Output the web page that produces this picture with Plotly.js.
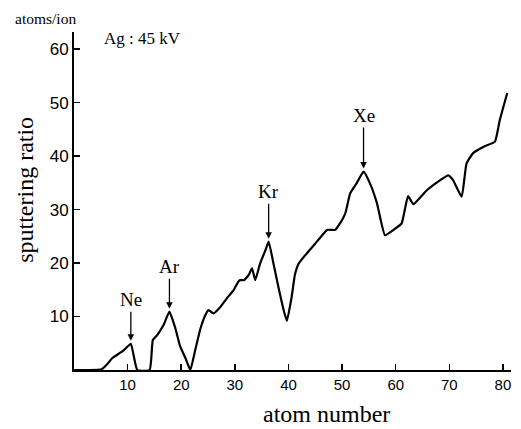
<!DOCTYPE html>
<html>
<head>
<meta charset="utf-8">
<script src="https://cdn.plot.ly/plotly-3.0.1.min.js"></script>
<style>
  html, body { margin: 0; padding: 0; background: #fff; }
  #chart { width: 521px; height: 429px; }
</style>
</head>
<body>
<div id="chart"></div>
<script>
// Sputtering ratio of Ag at 45 kV versus atomic number of the incident ion
const atomNumber = [0, 3, 5, 5.5, 6.3, 7.1, 8.0, 9.3, 10.6, 11.8, 14.1, 14.7, 15.5, 16.7, 17.8,
  18.9, 19.8, 20.8, 21.7, 22.6, 23.6, 24.5, 25.1, 26.0, 27.3, 28.5, 29.8, 30.7, 31.0, 31.7,
  32.6, 33.2, 33.8, 34.7, 35.7, 36.3, 37.2, 38.1, 39.1, 39.7, 40.6, 41.2, 41.9, 43.4, 45.3,
  47.2, 48.7, 49.6, 50.6, 51.5, 52.7, 54.0, 55.2, 56.5, 58.0, 59.6, 61.1, 62.3, 63.3, 65.8,
  68.3, 69.8, 70.7, 72.3, 73.2, 74.4, 76.3, 78.5, 79.4, 80.8];
const sputterRatio = [0, 0, 0.1, 0.4, 1.2, 2.2, 2.8, 3.7, 4.9, 0, 0, 5.6, 6.5, 8.4, 10.9,
  7.8, 4.4, 2.2, 0, 3.7, 7.8, 10.3, 11.2, 10.6, 11.8, 13.4, 15.0, 16.6, 16.8, 16.8,
  17.8, 19.0, 16.8, 19.9, 22.4, 24.0, 19.9, 15.6, 11.2, 9.2, 13.7, 17.8, 19.9, 21.8, 24.0,
  26.2, 26.2, 27.4, 29.3, 33.0, 34.9, 37.1, 34.9, 31.2, 25.2, 26.2, 27.4, 32.5, 31.0, 33.6,
  35.5, 36.4, 35.5, 32.4, 38.6, 40.5, 41.7, 42.7, 46.7, 51.8];

// Noble-gas peaks marked with arrows
const gasNames = ['Ne', 'Ar', 'Kr', 'Xe'];
const gasZ = [10.6, 17.8, 36.3, 54.0];
const gasRatio = [4.9, 10.9, 24.0, 37.1];
const gasArrowLen = [-44, -45, -50, -56];

const xTicks = [10, 20, 30, 40, 50, 60, 70, 80];
const yTicks = [10, 20, 30, 40, 50, 60];

const serif = '"Liberation Serif", "Times New Roman", serif';
const sans = '"Liberation Sans", Arial, sans-serif';

const trace = {
  x: atomNumber,
  y: sputterRatio,
  mode: 'lines',
  line: { color: '#000', width: 2.2, shape: 'spline', smoothing: 0.4 },
  hoverinfo: 'skip'
};

const gasNotes = gasNames.map((name, i) => ({
  x: gasZ[i], y: gasRatio[i], xref: 'x', yref: 'y',
  text: name, showarrow: true, arrowhead: 2, arrowsize: 1, arrowwidth: 1.3,
  arrowcolor: '#000', ax: 0, ay: gasArrowLen[i], standoff: 3,
  font: { family: serif, size: 19, color: '#000' }
}));

const layout = {
  width: 521, height: 429,
  margin: { l: 74, r: 10, t: 32, b: 59 },
  paper_bgcolor: '#fff', plot_bgcolor: '#fff',
  showlegend: false,
  xaxis: {
    range: [0, 81.5], showgrid: false, zeroline: false,
    showline: true, linecolor: '#000', linewidth: 2,
    ticks: 'inside', ticklen: 6, tickwidth: 1.5, tickcolor: '#000',
    tickvals: xTicks, ticktext: xTicks.map(String),
    tickfont: { family: sans, size: 15, color: '#000' }
  },
  yaxis: {
    range: [0, 63.2], showgrid: false, zeroline: false,
    showline: true, linecolor: '#000', linewidth: 2,
    ticks: 'inside', ticklen: 6, tickwidth: 1.5, tickcolor: '#000',
    tickvals: yTicks, ticktext: yTicks.map(String),
    tickfont: { family: sans, size: 17, color: '#000' }
  },
  annotations: gasNotes.concat([
    { xref: 'paper', yref: 'paper', x: 0.5, xshift: 34, y: 0, yshift: -44, xanchor: 'center', yanchor: 'middle',
      text: 'atom number', showarrow: false,
      font: { family: serif, size: 24, color: '#000' } },
    { xref: 'paper', yref: 'paper', x: 0, xshift: -49, y: 0.533, xanchor: 'center', yanchor: 'middle',
      text: 'sputtering ratio', textangle: -90, showarrow: false,
      font: { family: serif, size: 24, color: '#000' } },
    { xref: 'paper', yref: 'paper', x: 0, xshift: -61, y: 1, yshift: 14, xanchor: 'left', yanchor: 'middle',
      text: 'atoms/ion', showarrow: false,
      font: { family: serif, size: 15.5, color: '#000' } },
    { xref: 'paper', yref: 'paper', x: 0, xshift: 28, y: 1, yshift: -6, xanchor: 'left', yanchor: 'middle',
      text: 'Ag : 45 kV', showarrow: false,
      font: { family: serif, size: 17, color: '#000' } }
  ])
};

Plotly.newPlot('chart', [trace], layout, { staticPlot: true, displayModeBar: false });
</script>
</body>
</html>
